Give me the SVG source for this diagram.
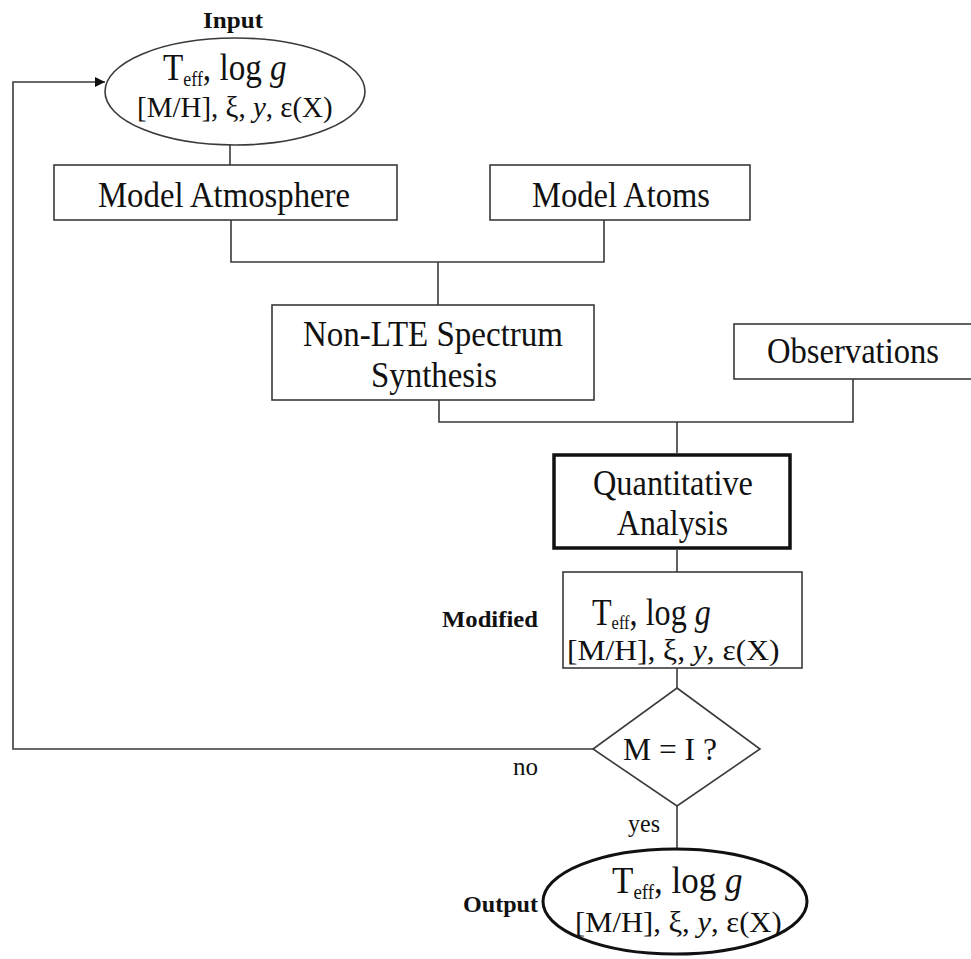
<svg xmlns="http://www.w3.org/2000/svg" width="971" height="959" viewBox="0 0 971 959">
  <style>
    .shape { fill: #ffffff; stroke: #3a3a3a; stroke-width: 1.6; }
    .bold-shape { fill: #ffffff; stroke: #111111; stroke-width: 3.5; }
    .wire { fill: none; stroke: #3a3a3a; stroke-width: 1.6; }
    text { font-family: "Liberation Serif", "Times New Roman", serif; fill: #111111; }
    .lbl { font-size: 35px; text-anchor: middle; }
    .tag { font-size: 23px; font-weight: bold; }
    .small { font-size: 25px; }
    .top { font-size: 37px; }
    .sub { font-size: 20px; }
    .bot { font-size: 30px; }
    .it { font-style: italic; }
  </style>
  <defs>
    <marker id="arrow" viewBox="0 0 10 10" refX="10" refY="5" markerWidth="11" markerHeight="10" markerUnits="userSpaceOnUse" orient="auto">
      <path d="M0,0 L10,5 L0,10 Z" fill="#111111"/>
    </marker>
  </defs>
  <rect width="971" height="959" fill="#ffffff"/>

  <!-- connectors -->
  <g id="connectors">
    <path class="wire" d="M230,145 V165"/>
    <path class="wire" d="M231,220 V262 H604 V220"/>
    <path class="wire" d="M438,262 V305"/>
    <path class="wire" d="M439,400 V422 H853 V378"/>
    <path class="wire" d="M677,422 V453"/>
    <path class="wire" d="M677,550 V572"/>
    <path class="wire" d="M677,668 V688"/>
    <path class="wire" d="M593,749 H13 V82 H105" marker-end="url(#arrow)"/>
    <path class="wire" d="M677,806 V848"/>
  </g>

  <!-- input parameters -->
  <g id="input">
    <text class="tag" x="203" y="28" textLength="60" lengthAdjust="spacingAndGlyphs">Input</text>
    <ellipse class="shape" cx="235" cy="91.5" rx="130" ry="53.5"/>
    <text class="top" transform="translate(163,80) scale(0.897,1)">T<tspan class="sub" dy="6">eff</tspan><tspan dy="-6">, log </tspan><tspan class="it">g</tspan></text>
    <text class="bot" transform="translate(137,117) scale(0.966,1)">[M/H], ξ, <tspan class="it">y</tspan>, ε(X)</text>
  </g>

  <g id="model-atmosphere">
    <rect class="shape" x="54" y="165" width="343" height="55"/>
    <text class="lbl" x="224" y="207" textLength="252" lengthAdjust="spacingAndGlyphs">Model Atmosphere</text>
  </g>

  <g id="model-atoms">
    <rect class="shape" x="490" y="165" width="260" height="55"/>
    <text class="lbl" x="621" y="207" textLength="178" lengthAdjust="spacingAndGlyphs">Model Atoms</text>
  </g>

  <g id="spectrum-synthesis">
    <rect class="shape" x="272" y="305" width="322" height="95"/>
    <text class="lbl" x="433" y="346" textLength="260" lengthAdjust="spacingAndGlyphs">Non-LTE Spectrum</text>
    <text class="lbl" x="434" y="387" textLength="126" lengthAdjust="spacingAndGlyphs">Synthesis</text>
  </g>

  <g id="observations">
    <rect class="shape" x="734" y="324" width="245" height="55"/>
    <text class="lbl" x="853" y="363" textLength="172" lengthAdjust="spacingAndGlyphs">Observations</text>
  </g>

  <g id="analysis">
    <rect class="bold-shape" x="554" y="455" width="236" height="93"/>
    <text class="lbl" x="673" y="495" textLength="160" lengthAdjust="spacingAndGlyphs">Quantitative</text>
    <text class="lbl" x="672.5" y="535" textLength="111" lengthAdjust="spacingAndGlyphs">Analysis</text>
  </g>

  <g id="modified">
    <text class="tag" x="442" y="627" textLength="96" lengthAdjust="spacingAndGlyphs">Modified</text>
    <rect class="shape" x="563" y="572" width="239" height="96"/>
    <text class="top" transform="translate(592,625) scale(0.868,1)">T<tspan font-size="19" dy="4">eff</tspan><tspan dy="-4">, log </tspan><tspan class="it">g</tspan></text>
    <text class="bot" transform="translate(567,660) scale(1.049,1)">[M/H], ξ, <tspan class="it">y</tspan>, ε(X)</text>
  </g>

  <g id="decision">
    <polygon class="shape" points="677,688 760,749 677,806 593,749"/>
    <text x="623" y="760" font-size="32" textLength="94" lengthAdjust="spacingAndGlyphs">M = I ?</text>
    <text class="small" x="513" y="775" textLength="25" lengthAdjust="spacingAndGlyphs">no</text>
    <text class="small" x="628" y="832" textLength="32" lengthAdjust="spacingAndGlyphs">yes</text>
  </g>

  <g id="output">
    <text class="tag" x="463" y="912" textLength="75" lengthAdjust="spacingAndGlyphs">Output</text>
    <ellipse cx="675" cy="901.5" rx="132" ry="52.5" fill="#ffffff" stroke="#111111" stroke-width="3"/>
    <text class="top" transform="translate(612,893) scale(0.947,1)">T<tspan class="sub" dy="6">eff</tspan><tspan dy="-6">, log </tspan><tspan class="it">g</tspan></text>
    <text class="bot" transform="translate(575,932) scale(1.02,1)">[M/H], ξ, <tspan class="it">y</tspan>, ε(X)</text>
  </g>
</svg>
